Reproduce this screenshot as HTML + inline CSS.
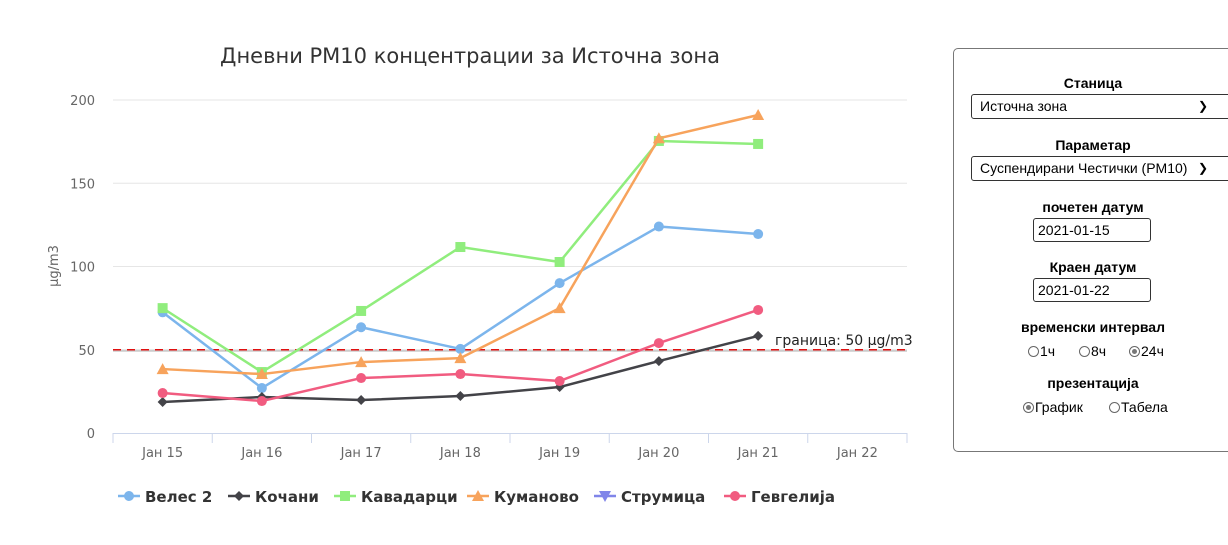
<!DOCTYPE html>
<html><head><meta charset="utf-8">
<style>
html,body{margin:0;padding:0;width:1228px;height:545px;overflow:hidden;background:#fff;font-family:"Liberation Sans",Arial,sans-serif;}
#panel{position:absolute;left:953px;top:48px;width:300px;height:404px;border:1px solid #777;border-radius:5px;box-sizing:border-box;}
.lbl{position:absolute;left:0;width:278px;text-align:center;font-weight:bold;font-size:14px;color:#000;}
.sel{position:absolute;left:17px;width:260px;height:25px;border:1px solid #333;border-radius:3px;box-sizing:border-box;font-size:14px;line-height:23px;padding-left:8px;}
.sel span.chev{position:absolute;left:226px;top:0;font-size:12px;}
.inp{position:absolute;left:79px;width:118px;height:24px;border:1px solid #333;border-radius:3px;box-sizing:border-box;font-size:14px;line-height:22px;padding-left:4px;}
.radio{position:absolute;font-size:14px;}
.rc{display:inline-block;width:11px;height:11px;border:1px solid #666;border-radius:50%;vertical-align:-1px;margin-right:1px;box-sizing:border-box;position:relative;}
.rc.on::after{content:"";position:absolute;left:2px;top:2px;width:5px;height:5px;border-radius:50%;background:#777;}
</style></head><body>
<svg id="chart" width="940" height="545" style="position:absolute;left:0;top:0" xmlns="http://www.w3.org/2000/svg"></svg>

<div id="panel">
  <div class="lbl" style="top:26px">Станица</div>
  <div class="sel" style="top:45px">Источна зона<span class="chev">&#10095;</span></div>
  <div class="lbl" style="top:88px">Параметар</div>
  <div class="sel" style="top:107px">Суспендирани Честички (PM10)<span class="chev">&#10095;</span></div>
  <div class="lbl" style="top:150px">почетен датум</div>
  <div class="inp" style="top:169px">2021-01-15</div>
  <div class="lbl" style="top:210px">Краен датум</div>
  <div class="inp" style="top:229px">2021-01-22</div>
  <div class="lbl" style="top:270px">временски интервал</div>
  <div class="radio" style="left:74px;top:294px"><span class="rc"></span>1ч</div>
  <div class="radio" style="left:125px;top:294px"><span class="rc"></span>8ч</div>
  <div class="radio" style="left:175px;top:294px"><span class="rc on"></span>24ч</div>
  <div class="lbl" style="top:326px">презентација</div>
  <div class="radio" style="left:69px;top:350px"><span class="rc on"></span>График</div>
  <div class="radio" style="left:155px;top:350px"><span class="rc"></span>Табела</div>
</div>

<script>
const categories=["Јан 15","Јан 16","Јан 17","Јан 18","Јан 19","Јан 20","Јан 21","Јан 22"];
const yTicks=[0,50,100,150,200];
const seriesNames=["Велес 2","Кочани","Кавадарци","Куманово","Струмица","Гевгелија"];
const seriesColors=["#7cb5ec","#434348","#90ed7d","#f7a35c","#8085e9","#f15c80"];
const seriesMarkers=["circle","diamond","square","triangle","triangle-down","circle"];
const veles=[72.5,27,63.5,50.5,90,124,119.5];
const kochani=[18.6,21.6,19.8,22.2,27.6,43.2,58.3];
const kavadarci=[75,36.6,73.3,111.7,102.7,175.4,173.6];
const kumanovo=[38.4,35.4,42.6,45,75,177,191];
const strumica=[];
const gevgelija=[24,19.2,33,35.4,31.2,54,73.9];
const limitValue=50;
const seriesData=[veles,kochani,kavadarci,kumanovo,strumica,gevgelija];

const NS="http://www.w3.org/2000/svg";
const svg=document.getElementById('chart');
const X0=113,X1=907,Y0=433,Y1=100,YMAX=200;
const band=(X1-X0)/categories.length;
const xs=i=>X0+band*(i+0.5);
const ys=v=>Y0-(v/YMAX)*(Y0-Y1);
function mk(tag,attrs,parent){const e=document.createElementNS(NS,tag);for(const k in attrs)e.setAttribute(k,attrs[k]);(parent||svg).appendChild(e);return e;}

let t=mk('text',{x:470,y:63,'text-anchor':'middle','font-size':21,fill:'#333','font-family':'DejaVu Sans, sans-serif'});
t.textContent="Дневни PM10 концентрации за Источна зона";



yTicks.forEach(v=>{
  if(v>0){const g=mk('line',{x1:X0,x2:X1,y1:ys(v),y2:ys(v),stroke:'#e6e6e6','stroke-width':1});
  
  }
  const l=mk('text',{x:95,y:ys(v)+5,'text-anchor':'end','font-size':13,fill:'#666','font-family':'DejaVu Sans, sans-serif'});
  l.textContent=v;
  
  
});
let yt=mk('text',{x:58,y:266,'text-anchor':'middle','font-size':13,fill:'#666','font-family':'DejaVu Sans, sans-serif',transform:'rotate(-90 58 266)'});
yt.textContent="µg/m3";



let ax=mk('line',{x1:X0,x2:X1,y1:Y0+0.5,y2:Y0+0.5,stroke:'#ccd6eb','stroke-width':1});


for(let i=0;i<=categories.length;i++){
  const tk=mk('line',{x1:X0+band*i,x2:X0+band*i,y1:Y0,y2:Y0+10,stroke:'#ccd6eb'});
  
  
}
categories.forEach((c,i)=>{
  const l=mk('text',{x:xs(i),y:457,'text-anchor':'middle','font-size':13,fill:'#666','font-family':'DejaVu Sans, sans-serif'});
  l.textContent=c;
  
  
});

// limit line
let lg=mk('line',{x1:X0,x2:X1,y1:ys(limitValue)+1,y2:ys(limitValue)+1,stroke:'#ccc','stroke-width':2});


let ll=mk('line',{x1:X0,x2:X1,y1:ys(limitValue),y2:ys(limitValue),stroke:'#e01010','stroke-width':1.5,'stroke-dasharray':'8,6'});


let lt=mk('text',{x:775,y:ys(limitValue)-5,'font-size':14,fill:'#222','font-family':'DejaVu Sans, sans-serif'});
lt.textContent="граница: "+limitValue+" µg/m3";



function marker(type,x,y,color,r){
  let e;
  if(type==='circle'){e=mk('circle',{cx:x,cy:y,r:r,fill:color});}
  else if(type==='square'){e=mk('rect',{x:x-r,y:y-r,width:2*r,height:2*r,fill:color});}
  else if(type==='diamond'){e=mk('path',{d:`M${x},${y-r-1}L${x+r+1},${y}L${x},${y+r+1}L${x-r-1},${y}Z`,fill:color});}
  else if(type==='triangle'){e=mk('path',{d:`M${x},${y-r-1}L${x+r+1},${y+r}L${x-r-1},${y+r}Z`,fill:color});}
  else {e=mk('path',{d:`M${x-r-1},${y-r}L${x+r+1},${y-r}L${x},${y+r+1}Z`,fill:color});}
  return e;
}
seriesData.forEach((d,s)=>{
  if(!d.length)return;
  const p=mk('polyline',{points:d.map((v,i)=>xs(i)+','+ys(v)).join(' '),fill:'none',stroke:seriesColors[s],'stroke-width':2.5,'stroke-linejoin':'round'});
  
  
  d.forEach((v,i)=>{
    const m=marker(seriesMarkers[s],xs(i),ys(v),seriesColors[s],s===1?4:5);
    
    
  });
});
// legend
const legX=[118,228,334,467,594,724];
seriesNames.forEach((n,s)=>{
  const g=mk('g',{});
  
  
  const x=legX[s],y=496;
  mk('line',{x1:x,x2:x+22,y1:y,y2:y,stroke:seriesColors[s],'stroke-width':2.5},g);
  const m=marker(seriesMarkers[s],x+11,y,seriesColors[s],s===1?4:5);g.appendChild(m);
  const tx=mk('text',{x:x+27,y:y+6,'font-size':15,'font-weight':'bold',fill:'#333','font-family':'DejaVu Sans, sans-serif'},g);
  tx.textContent=n;
});
</script>
</body></html>
